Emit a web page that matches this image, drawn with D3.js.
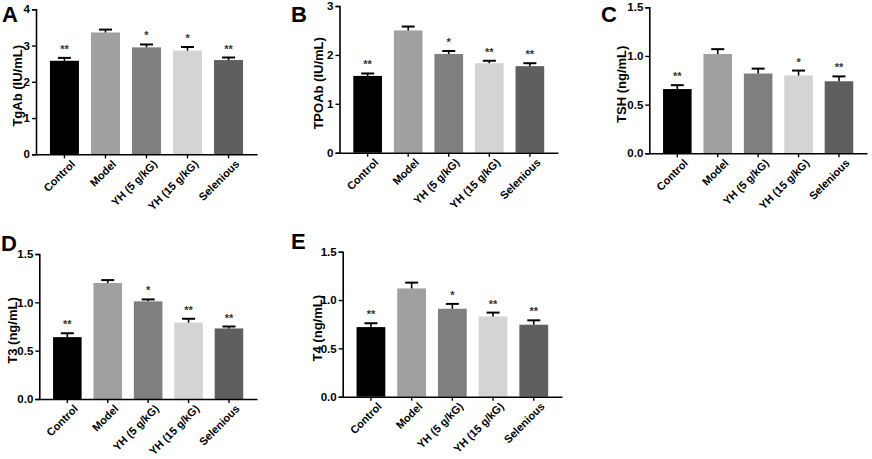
<!DOCTYPE html>
<html>
<head>
<meta charset="utf-8">
<script src="https://cdn.jsdelivr.net/npm/d3@7"></script>
<style>
  html, body { margin: 0; padding: 0; background: #fff; }
  svg { display: block; }
  text { font-family: "Liberation Sans", Arial, sans-serif; font-weight: bold; }
</style>
</head>
<body>
<svg id="chart" width="872" height="459"></svg>
<script>
// ---- data ----
const categories = ["Control", "Model", "YH (5 g/kG)", "YH (15 g/kG)", "Selenious"];
const barColors = ["#000000", "#a0a0a0", "#7f7f7f", "#d4d4d4", "#5f5f5f"];

const tgabValues = [2.58, 3.36, 2.95, 2.86, 2.60];
const tgabErrors = [0.08, 0.08, 0.08, 0.10, 0.07];
const tgabStars  = ["**", "", "*", "*", "**"];

const tpoabValues = [1.57, 2.50, 2.02, 1.83, 1.77];
const tpoabErrors = [0.05, 0.08, 0.06, 0.05, 0.06];
const tpoabStars  = ["**", "", "*", "**", "**"];

const tshValues = [0.66, 1.02, 0.82, 0.80, 0.74];
const tshErrors = [0.04, 0.05, 0.05, 0.05, 0.05];
const tshStars  = ["**", "", "", "*", "**"];

const t3Values = [0.64, 1.20, 1.01, 0.79, 0.73];
const t3Errors = [0.04, 0.03, 0.02, 0.04, 0.02];
const t3Stars  = ["**", "", "*", "**", "**"];

const t4Values = [0.72, 1.12, 0.91, 0.83, 0.745];
const t4Errors = [0.04, 0.06, 0.05, 0.04, 0.045];
const t4Stars  = ["**", "", "*", "**", "**"];

const ticksA = [0, 1, 2, 3, 4];
const ticksB = [0, 1, 2, 3];
const ticksSmall = [0, 0.5, 1.0, 1.5];

// ---- panels (layout) ----
const panels = [
  { letter: "A", title: "TgAb (IU/mL)",  values: tgabValues,  errors: tgabErrors,  stars: tgabStars,
    ymax: 4,   ticks: ticksA, fmt: d3.format("d"),
    x0: 36,    x1: 257, yTop: 9.3,   yBot: 154.3, titleX: 17,  lx: 2,   ly: 22 },
  { letter: "B", title: "TPOAb (IU/mL)", values: tpoabValues, errors: tpoabErrors, stars: tpoabStars,
    ymax: 3,   ticks: ticksB, fmt: d3.format("d"),
    x0: 339.5, x1: 558, yTop: 6,     yBot: 152.7, titleX: 318, lx: 291, ly: 22 },
  { letter: "C", title: "TSH (ng/mL)",   values: tshValues,   errors: tshErrors,   stars: tshStars,
    ymax: 1.5, ticks: ticksSmall, fmt: d3.format(".1f"),
    x0: 649.3, x1: 867, yTop: 7.3,   yBot: 153.3, titleX: 621, lx: 601, ly: 22 },
  { letter: "D", title: "T3 (ng/mL)",    values: t3Values,    errors: t3Errors,    stars: t3Stars,
    ymax: 1.5, ticks: ticksSmall, fmt: d3.format(".1f"),
    x0: 39.3,  x1: 257, yTop: 254,   yBot: 399,   titleX: 12.5, lx: 1,  ly: 251 },
  { letter: "E", title: "T4 (ng/mL)",    values: t4Values,    errors: t4Errors,    stars: t4Stars,
    ymax: 1.5, ticks: ticksSmall, fmt: d3.format(".1f"),
    x0: 342.7, x1: 562, yTop: 251.7, yBot: 396.7, titleX: 317.5, lx: 291, ly: 249 }
];

const svg = d3.select("#chart");

panels.forEach(p => {
  const g = svg.append("g");
  const x = d3.scaleBand().domain(categories).range([p.x0, p.x1])
    .paddingInner(0.293).paddingOuter(0.34);
  const y = d3.scaleLinear().domain([0, p.ymax]).range([p.yBot, p.yTop]);
  const rows = categories.map((c, i) => ({ c, i, v: p.values[i], e: p.errors[i], s: p.stars[i] }));

  // bars
  g.selectAll("rect.bar").data(rows).enter().append("rect")
    .attr("class", "bar")
    .attr("x", d => x(d.c))
    .attr("width", x.bandwidth())
    .attr("y", d => y(d.v))
    .attr("height", d => y(0) - y(d.v))
    .attr("fill", d => barColors[d.i]);

  // error bars (upper only)
  const cx = d => x(d.c) + x.bandwidth() / 2;
  g.selectAll("line.err").data(rows).enter().append("line")
    .attr("x1", cx).attr("x2", cx)
    .attr("y1", d => y(d.v)).attr("y2", d => y(d.v + d.e))
    .attr("stroke", "#000").attr("stroke-width", 1.6);
  g.selectAll("line.cap").data(rows).enter().append("line")
    .attr("x1", d => cx(d) - 6.5).attr("x2", d => cx(d) + 6.5)
    .attr("y1", d => y(d.v + d.e)).attr("y2", d => y(d.v + d.e))
    .attr("stroke", "#000").attr("stroke-width", 2);

  // significance stars
  g.selectAll("text.star").data(rows.filter(d => d.s)).enter().append("text")
    .attr("x", cx)
    .attr("y", d => y(d.v + d.e) - 5)
    .attr("text-anchor", "middle")
    .attr("font-size", 11)
    .attr("fill", "#333")
    .attr("font-weight", "normal")
    .text(d => d.s);

  // y axis
  const ya = g.append("g").attr("transform", `translate(${p.x0},0)`)
    .call(d3.axisLeft(y).tickValues(p.ticks).tickFormat(p.fmt).tickSize(4).tickPadding(2));
  ya.select(".domain").attr("stroke", "#000").attr("stroke-width", 1.6);
  ya.selectAll(".tick line").attr("stroke", "#000").attr("stroke-width", 1.4);
  ya.selectAll(".tick text").attr("font-size", 11.5).attr("font-family", "Liberation Sans, Arial, sans-serif")
    .attr("font-weight", "bold").attr("fill", "#000");

  // x axis
  const xa = g.append("g").attr("transform", `translate(0,${p.yBot})`)
    .call(d3.axisBottom(x).tickSize(4).tickSizeOuter(0));
  xa.select(".domain").attr("stroke", "#000").attr("stroke-width", 1.6);
  xa.selectAll(".tick line").attr("stroke", "#000").attr("stroke-width", 1.4);
  xa.selectAll(".tick text")
    .attr("font-size", 11).attr("font-family", "Liberation Sans, Arial, sans-serif")
    .attr("font-weight", "bold").attr("fill", "#000")
    .attr("text-anchor", "end")
    .attr("y", 0).attr("dy", "0.7em")
    .attr("transform", "translate(6,5) rotate(-45)");

  // y title
  g.append("text")
    .attr("transform", `translate(${p.titleX},${(p.yTop + p.yBot) / 2 + 4}) rotate(-90)`)
    .attr("text-anchor", "middle")
    .attr("dy", "0.35em")
    .attr("font-size", 13)
    .attr("fill", "#000")
    .text(p.title);

  // panel letter
  g.append("text")
    .attr("x", p.lx).attr("y", p.ly)
    .attr("font-size", 22)
    .attr("fill", "#000")
    .text(p.letter);
});
</script>
</body>
</html>
